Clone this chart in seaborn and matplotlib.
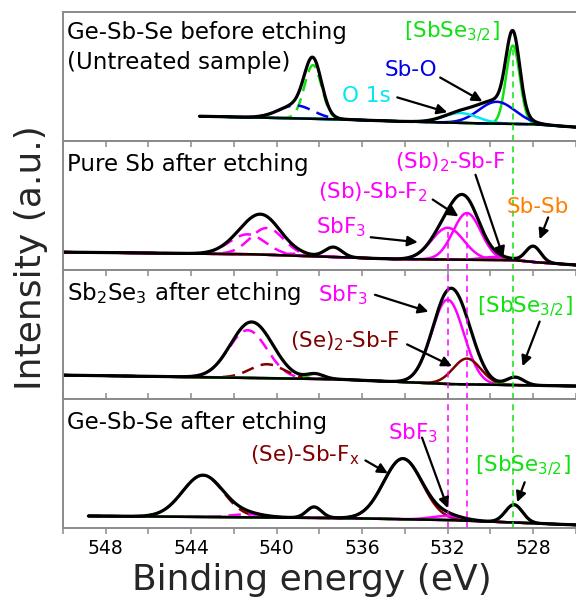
import numpy as np
import matplotlib
matplotlib.use("Agg")
import matplotlib.pyplot as plt
from matplotlib.ticker import MultipleLocator
import seaborn as sns

sns.set_theme(style="white")
plt.rcParams["font.family"] = ["DejaVu Sans"]
plt.rcParams["mathtext.default"] = "regular"

GREEN = "#11e011"
BLUE = "#0000ee"
CYAN = "#00e8f0"
MAGENTA = "#ff00ff"
ORANGE = "#ff8000"
BROWN = "#800000"

# energy window of each scan (eV)
scan_start = [543.6, 550.0, 550.0, 548.8]
scan_end = 526.0

# background (Shirley-like) knots, eV / intensity
bg_e_1 = [543.6, 537.2, 534.5, 531.0, 528.0, 526.0]
bg_i_1 = [25, 22, 20, 18, 17, 14]
bg_e_2 = [550.0, 541.4, 534.5, 528.9, 528.0, 526.0]
bg_i_2 = [18, 16, 11, 10, 8, 5]
bg_e_3 = [550.0, 537.3, 532.0, 526.0]
bg_i_3 = [24, 20, 15, 13]
bg_e_4 = [548.8, 537.3, 532.0, 526.0]
bg_i_4 = [12, 10, 8, 3]

# fitted components: centre (eV), height, width (eV)
p1_centre = [528.95, 529.7, 531.4, 538.3, 539.1]
p1_height = [79, 22, 10, 54, 13]
p1_sigma = [0.32, 0.85, 0.8, 0.4, 0.8]
p1_color = [GREEN, BLUE, CYAN, GREEN, BLUE]
p1_dashed = [False, False, False, True, True]

p2_centre = [532.0, 531.1, 529.8, 528.0, 541.35, 540.45, 539.15, 537.35]
p2_height = [32, 47, 3, 16, 20, 27, 2, 10]
p2_sigma = [0.75, 0.65, 0.6, 0.35, 0.85, 0.78, 0.6, 0.4]
p2_color = [MAGENTA, MAGENTA, MAGENTA, ORANGE, MAGENTA, MAGENTA, MAGENTA, ORANGE]
p2_dashed = [False, False, False, False, True, True, True, True]

p3_centre = [532.0, 531.1, 528.85, 541.35, 540.45, 538.2]
p3_height = [85, 26, 8, 48, 14, 5]
p3_sigma = [0.75, 0.65, 0.4, 0.9, 0.8, 0.4]
p3_color = [MAGENTA, BROWN, GREEN, MAGENTA, BROWN, GREEN]
p3_dashed = [False, False, False, True, True, True]

p4_centre = [534.1, 532.0, 528.9, 543.45, 541.35, 538.25]
p4_height = [61, 4, 18, 42, 3, 11]
p4_sigma = [0.9, 0.75, 0.4, 0.95, 0.8, 0.35]
p4_color = [BROWN, MAGENTA, GREEN, BROWN, MAGENTA, GREEN]
p4_dashed = [False, False, False, True, True, True]

# reference energies (vertical guide lines)
sbse_ref = 528.95
sbf3_ref = [532.0, 531.1]

titles = [["Ge-Sb-Se before etching", "(Untreated sample)"],
          ["Pure Sb after etching"],
          ["Sb$_2$Se$_3$ after etching"],
          ["Ge-Sb-Se after etching"]]

# (text, colour, text position, arrow start, arrow tip)
labels = [
    [("[SbSe$_{3/2}$]", GREEN, (531.8, 110), None, None),
     ("Sb-O", BLUE, (533.7, 72), (532.35, 64), (530.38, 40)),
     ("O 1s", CYAN, (535.8, 45), (534.36, 44), (532.02, 29))],
    [("(Sb)$_2$-Sb-F", MAGENTA, (531.9, 109), (530.7, 96), (529.4, 13)),
     ("(Sb)-Sb-F$_2$", MAGENTA, (535.5, 78), (532.7, 71), (531.5, 54)),
     ("SbF$_3$", MAGENTA, (537.0, 43), (535.6, 33), (533.4, 28)),
     ("Sb-Sb", ORANGE, (527.8, 64), (527.3, 53), (527.7, 31))],
    [("SbF$_3$", MAGENTA, (536.9, 105), (535.4, 105), (532.9, 88)),
     ("(Se)$_2$-Sb-F", BROWN, (536.8, 58), (533.9, 55), (531.8, 33)),
     ("[SbSe$_{3/2}$]", GREEN, (528.4, 93), (527.7, 78), (528.5, 33))],
    [("SbF$_3$", MAGENTA, (533.6, 95), (533.2, 91), (532.0, 20)),
     ("(Se)-Sb-F$_x$", BROWN, (538.7, 73), (535.85, 68), (534.8, 55)),
     ("[SbSe$_{3/2}$]", GREEN, (528.5, 63), (528.4, 46), (528.75, 26))],
]

panels = [
    (bg_e_1, bg_i_1, p1_centre, p1_height, p1_sigma, p1_color, p1_dashed),
    (bg_e_2, bg_i_2, p2_centre, p2_height, p2_sigma, p2_color, p2_dashed),
    (bg_e_3, bg_i_3, p3_centre, p3_height, p3_sigma, p3_color, p3_dashed),
    (bg_e_4, bg_i_4, p4_centre, p4_height, p4_sigma, p4_color, p4_dashed),
]


def peak(e, c, h, s):
    return h * np.exp(-0.5 * ((e - c) / s) ** 2)


fig, axes = plt.subplots(4, 1, figsize=(5.76, 6.04), dpi=100, sharex=True,
                         gridspec_kw=dict(hspace=0))
fig.subplots_adjust(left=0.109, right=1.0, top=0.980, bottom=0.126)

spine_col = "#8a8a8a"
dash = (0, (5, 3))

for k, ax in enumerate(axes):
    bg_e, bg_i, cen, hgt, sig, col, dsh = panels[k]
    e = np.linspace(scan_start[k], scan_end, 700)
    bg = np.interp(e, bg_e[::-1], bg_i[::-1])
    total = bg.copy()
    for c, h, s, cl, d in zip(cen, hgt, sig, col, dsh):
        comp = peak(e, c, h, s)
        total += comp
        sns.lineplot(x=e, y=bg + comp, ax=ax, color=cl, linewidth=1.8,
                     linestyle=dash if d else "-", estimator=None, sort=False)
    sns.lineplot(x=e, y=bg, ax=ax, color="black", linewidth=1.8,
                 estimator=None, sort=False)
    sns.lineplot(x=e, y=total, ax=ax, color="black", linewidth=2.3,
                 estimator=None, sort=False)

    # guide lines
    if k == 0:
        top = np.interp(sbse_ref, bg_e[::-1], bg_i[::-1]) + hgt[0]
        ax.vlines(sbse_ref, 0, top, color=GREEN, lw=1.1, linestyles=[(0, (4, 3))])
    else:
        ax.axvline(sbse_ref, color=GREEN, lw=1.1, ls=(0, (4, 3)))
    if k == 1:
        for c, h in zip(cen[:2], hgt[:2]):
            top = np.interp(c, bg_e[::-1], bg_i[::-1]) + h
            ax.vlines(c, 0, top, color=MAGENTA, lw=1.1, linestyles=[(0, (4, 3))])
    elif k >= 2:
        for c in sbf3_ref:
            ax.axvline(c, color=MAGENTA, lw=1.1, ls=(0, (4, 3)))

    # titles
    ax.text(549.78, 109 if k == 0 else 106, titles[k][0], fontsize=16.5,
            ha="left", va="center", color="black")
    if len(titles[k]) > 1:
        ax.text(549.78, 79, titles[k][1], fontsize=16.5, ha="left",
                va="center", color="black")

    for txt, cl, pos, a0, a1 in labels[k]:
        ax.text(pos[0], pos[1], txt, color=cl, fontsize=15.5,
                ha="center", va="center")
        if a0 is not None:
            ax.annotate("", xy=a1, xytext=a0,
                        arrowprops=dict(arrowstyle="-|>", color="black",
                                        lw=1.6, mutation_scale=15,
                                        shrinkA=0, shrinkB=0))

    ax.set_xlim(550, 526)
    ax.set_ylim(0, 130)
    ax.set_yticks([])
    ax.set_ylabel("")
    for side in ["left", "top", "bottom"]:
        ax.spines[side].set_color(spine_col)
        ax.spines[side].set_linewidth(1.4)
    ax.spines["right"].set_visible(False)
    ax.xaxis.set_major_locator(MultipleLocator(4))
    ax.xaxis.set_minor_locator(MultipleLocator(2))
    if k == 0:
        ax.tick_params(axis="x", which="both", top=False, bottom=False,
                       labelbottom=False)
    elif k < 3:
        ax.tick_params(axis="x", which="both", top=True, bottom=False,
                       direction="in", length=4, width=1.1, color=spine_col,
                       labelbottom=False)
    else:
        ax.tick_params(axis="x", which="both", top=True, bottom=True,
                       direction="in", length=4, width=1.1, color=spine_col)
        ax.tick_params(axis="x", which="both", bottom=True, direction="out",
                       labelsize=13.5, pad=4, labelcolor="black")

fig.text(0.054, 0.573, "Intensity (a.u.)", rotation=90, fontsize=26,
         ha="center", va="center")
fig.text(0.542, 0.023, "Binding energy (eV)", fontsize=26,
         ha="center", va="baseline")

fig.savefig("out.png", dpi=100)
